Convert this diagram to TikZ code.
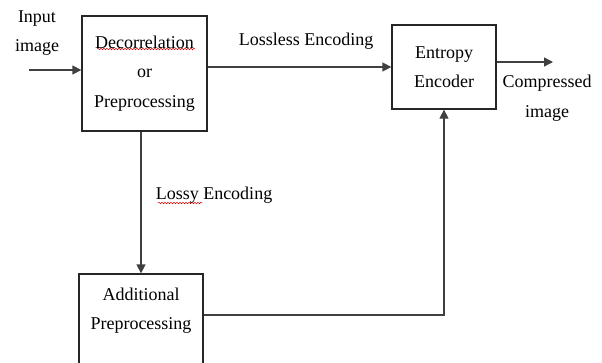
\documentclass[tikz,border=0pt]{standalone}
\usepackage{fontspec}
\setmainfont{Liberation Serif}
\usetikzlibrary{arrows.meta,decorations.pathmorphing}
\begin{document}
\begin{tikzpicture}[x=1pt,y=-1pt,>={Triangle[length=9pt,width=9pt]},
	box/.style={draw=black!85,line width=1.3pt,align=center,inner sep=0pt},
	txt/.style={align=center,font=\fontsize{18}{29.5}\selectfont},
	line/.style={line width=1.3pt,draw=black!75},
	squiggle/.style={red!85!black,line width=0.5pt,decorate,decoration={snake,amplitude=0.7pt,segment length=3pt}}]
	\useasboundingbox[fill=white] (0,0) rectangle (602,362);
	\begin{scope}
	\clip (0,0) rectangle (602,362);
	% blocks
	\node[box,txt,minimum width=125,minimum height=115] (decor) at (144.5,73.5) {Decorrelation\\or\\Preprocessing};
	\node[box,txt,minimum width=104,minimum height=84] (entropy) at (444,67) {Entropy\\Encoder};
	\node[box,minimum width=124,minimum height=116] (addl) at (141,332) {};
	\node[txt,anchor=north,inner xsep=6pt,inner ysep=14pt] (addltxt) at (addl.north) {Additional\\Preprocessing};
	\end{scope}
	% labels
	\node[txt] (inlbl) at (37,33) {Input\\image};
	\node[txt] (lossless) at (306,41) {Lossless Encoding};
	\node[txt] (comp) at (547,98) {Compressed\\image};
	\node[txt] (lossy) at (214,195) {Lossy Encoding};
	\draw[squiggle] (97,49) -- (195,49);
	\draw[squiggle] (158,203) -- (202,203);
	% connectors
	\coordinate (in) at (29,70);
	\coordinate (out) at (553,62);
	\coordinate (mid) at (0,315);
	\draw[line,->] (in) -- (in -| decor.west);
	\draw[line,->] (entropy.west -| decor.east) -- (entropy.west);
	\draw[line,->] (out -| entropy.east) -- (out);
	\draw[line,->] (addl.north |- decor.south) -- (addl.north);
	\draw[line,->] (mid -| addl.east) -| (entropy.south);
\end{tikzpicture}
\end{document}
